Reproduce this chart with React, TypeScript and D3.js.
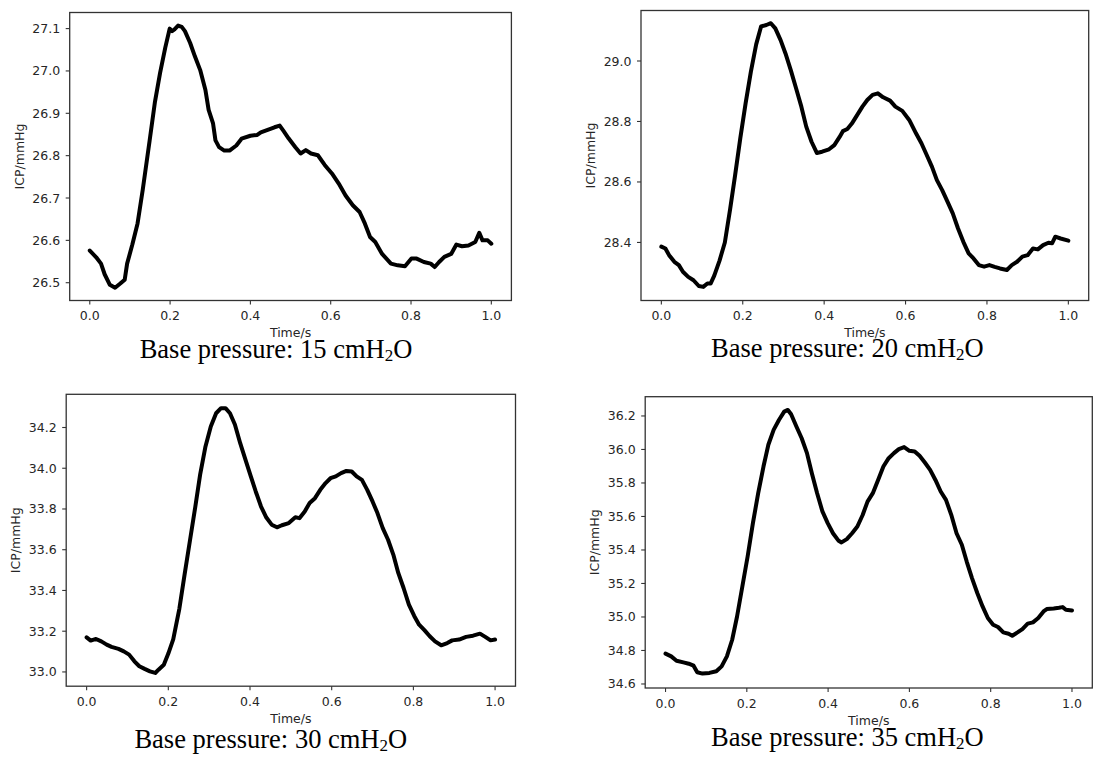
import React from 'react';
import * as d3 from 'd3';

const xTicks = [0, 0.2, 0.4, 0.6, 0.8, 1.0];

// Base pressure 15 cmH2O
const t15 = [0, 0.016, 0.028, 0.037, 0.05, 0.063, 0.076, 0.087, 0.093, 0.106, 0.119, 0.132, 0.149, 0.162, 0.175, 0.188, 0.199, 0.205, 0.211, 0.22, 0.229, 0.237, 0.25, 0.262, 0.275, 0.288, 0.296, 0.307, 0.313, 0.322, 0.335, 0.348, 0.365, 0.378, 0.4, 0.417, 0.426, 0.443, 0.46, 0.473, 0.482, 0.495, 0.512, 0.525, 0.538, 0.551, 0.568, 0.585, 0.603, 0.62, 0.637, 0.655, 0.672, 0.685, 0.698, 0.711, 0.728, 0.75, 0.767, 0.785, 0.801, 0.814, 0.832, 0.849, 0.859, 0.87, 0.883, 0.9, 0.913, 0.927, 0.943, 0.96, 0.97, 0.978, 0.991, 1.0];
const icp15 = [26.576, 26.56, 26.545, 26.52, 26.495, 26.488, 26.498, 26.507, 26.545, 26.59, 26.64, 26.72, 26.835, 26.925, 26.995, 27.055, 27.1, 27.094, 27.098, 27.107, 27.104, 27.094, 27.066, 27.034, 27.002, 26.955, 26.908, 26.876, 26.836, 26.82, 26.812, 26.812, 26.824, 26.84, 26.847, 26.849, 26.855, 26.861, 26.867, 26.871, 26.859, 26.841, 26.82, 26.805, 26.813, 26.805, 26.801, 26.778, 26.758, 26.734, 26.706, 26.683, 26.667, 26.64, 26.608, 26.596, 26.568, 26.545, 26.541, 26.539, 26.557, 26.557, 26.549, 26.545, 26.537, 26.549, 26.561, 26.568, 26.59, 26.586, 26.588, 26.596, 26.618, 26.6, 26.6, 26.592];

// Base pressure 20 cmH2O
const t20 = [0, 0.01, 0.019, 0.032, 0.043, 0.053, 0.066, 0.079, 0.092, 0.103, 0.113, 0.121, 0.13, 0.143, 0.156, 0.169, 0.181, 0.194, 0.207, 0.22, 0.233, 0.245, 0.258, 0.269, 0.28, 0.293, 0.305, 0.318, 0.331, 0.344, 0.356, 0.369, 0.382, 0.395, 0.412, 0.425, 0.438, 0.446, 0.457, 0.468, 0.481, 0.494, 0.506, 0.519, 0.532, 0.545, 0.562, 0.575, 0.592, 0.609, 0.626, 0.639, 0.652, 0.665, 0.677, 0.69, 0.703, 0.716, 0.729, 0.742, 0.755, 0.767, 0.78, 0.793, 0.806, 0.819, 0.832, 0.849, 0.861, 0.874, 0.887, 0.9, 0.913, 0.925, 0.938, 0.951, 0.96, 0.968, 0.981, 1.0];
const icp20 = [28.386, 28.38, 28.358, 28.336, 28.325, 28.303, 28.286, 28.275, 28.256, 28.253, 28.264, 28.264, 28.29, 28.34, 28.4, 28.51, 28.62, 28.745, 28.86, 28.965, 29.055, 29.114, 29.119, 29.125, 29.108, 29.069, 29.025, 28.97, 28.91, 28.849, 28.783, 28.733, 28.696, 28.7, 28.708, 28.722, 28.749, 28.768, 28.775, 28.793, 28.821, 28.849, 28.871, 28.888, 28.893, 28.88, 28.869, 28.849, 28.835, 28.805, 28.76, 28.728, 28.689, 28.65, 28.606, 28.573, 28.535, 28.496, 28.446, 28.402, 28.364, 28.347, 28.325, 28.32, 28.325, 28.319, 28.314, 28.309, 28.325, 28.336, 28.353, 28.358, 28.38, 28.377, 28.391, 28.399, 28.397, 28.419, 28.413, 28.406];

// Base pressure 30 cmH2O
const t30 = [0, 0.01, 0.023, 0.036, 0.049, 0.061, 0.078, 0.091, 0.104, 0.117, 0.129, 0.142, 0.155, 0.168, 0.176, 0.189, 0.2, 0.212, 0.227, 0.24, 0.253, 0.266, 0.278, 0.291, 0.304, 0.317, 0.329, 0.34, 0.351, 0.363, 0.376, 0.389, 0.402, 0.414, 0.427, 0.44, 0.453, 0.466, 0.478, 0.495, 0.511, 0.521, 0.534, 0.546, 0.559, 0.572, 0.585, 0.597, 0.61, 0.623, 0.636, 0.649, 0.661, 0.674, 0.687, 0.7, 0.712, 0.725, 0.738, 0.751, 0.763, 0.776, 0.789, 0.802, 0.814, 0.827, 0.84, 0.853, 0.868, 0.883, 0.895, 0.912, 0.929, 0.946, 0.963, 0.976, 0.989, 1.0];
const icp30 = [33.17, 33.154, 33.162, 33.15, 33.134, 33.123, 33.113, 33.101, 33.085, 33.052, 33.028, 33.015, 33.003, 32.995, 33.011, 33.035, 33.09, 33.16, 33.31, 33.48, 33.645, 33.81, 33.97, 34.107, 34.205, 34.27, 34.295, 34.295, 34.27, 34.215, 34.123, 34.041, 33.96, 33.886, 33.812, 33.758, 33.723, 33.71, 33.72, 33.731, 33.759, 33.755, 33.788, 33.829, 33.853, 33.894, 33.927, 33.951, 33.96, 33.976, 33.987, 33.984, 33.96, 33.943, 33.894, 33.837, 33.78, 33.706, 33.649, 33.575, 33.486, 33.412, 33.33, 33.275, 33.232, 33.205, 33.175, 33.15, 33.131, 33.142, 33.155, 33.159, 33.172, 33.178, 33.188, 33.172, 33.155, 33.159];

// Base pressure 35 cmH2O
const t35 = [0, 0.014, 0.027, 0.044, 0.057, 0.069, 0.078, 0.091, 0.108, 0.125, 0.138, 0.151, 0.164, 0.176, 0.189, 0.202, 0.215, 0.228, 0.241, 0.253, 0.266, 0.279, 0.292, 0.301, 0.309, 0.322, 0.335, 0.348, 0.36, 0.373, 0.386, 0.399, 0.412, 0.425, 0.433, 0.446, 0.459, 0.472, 0.485, 0.497, 0.51, 0.523, 0.536, 0.549, 0.562, 0.574, 0.587, 0.6, 0.613, 0.625, 0.638, 0.651, 0.664, 0.677, 0.69, 0.703, 0.716, 0.729, 0.741, 0.754, 0.767, 0.78, 0.793, 0.806, 0.818, 0.831, 0.844, 0.853, 0.866, 0.878, 0.891, 0.904, 0.917, 0.93, 0.938, 0.955, 0.968, 0.977, 0.985, 1.0];
const icp35 = [34.781, 34.765, 34.739, 34.729, 34.721, 34.709, 34.67, 34.662, 34.666, 34.676, 34.705, 34.765, 34.864, 35.003, 35.182, 35.361, 35.56, 35.739, 35.898, 36.028, 36.117, 36.176, 36.226, 36.236, 36.21, 36.137, 36.067, 35.978, 35.858, 35.739, 35.63, 35.56, 35.5, 35.457, 35.445, 35.465, 35.5, 35.54, 35.609, 35.689, 35.739, 35.818, 35.898, 35.948, 35.978, 36.002, 36.014, 35.992, 35.988, 35.962, 35.922, 35.878, 35.818, 35.749, 35.699, 35.61, 35.5, 35.431, 35.331, 35.232, 35.143, 35.063, 34.994, 34.954, 34.94, 34.908, 34.9, 34.888, 34.908, 34.928, 34.96, 34.968, 34.994, 35.033, 35.047, 35.051, 35.055, 35.059, 35.043, 35.039];

const yTicks15 = [26.5, 26.6, 26.7, 26.8, 26.9, 27.0, 27.1];
const yTicks20 = [28.4, 28.6, 28.8, 29.0];
const yTicks30 = [33.0, 33.2, 33.4, 33.6, 33.8, 34.0, 34.2];
const yTicks35 = [34.6, 34.8, 35.0, 35.2, 35.4, 35.6, 35.8, 36.0, 36.2];

const pressures = ['15', '20', '30', '35'];

const panels = [
  { t: t15, v: icp15, yTicks: yTicks15, yDomain: [26.458, 27.138], left: 69.7, right: 511.4, top: 12.5, bottom: 300.5, ylabelX: 19.2, capX: 276, capY: 358 },
  { t: t20, v: icp20, yTicks: yTicks20, yDomain: [28.208, 29.167], left: 641, right: 1088.7, top: 10.5, bottom: 300.5, ylabelX: 590.5, capX: 847.4, capY: 357 },
  { t: t30, v: icp30, yTicks: yTicks30, yDomain: [32.93, 34.363], left: 66.2, right: 515.5, top: 394.3, bottom: 686.2, ylabelX: 15.7, capX: 270.8, capY: 748 },
  { t: t35, v: icp35, yTicks: yTicks35, yDomain: [34.576, 36.315], left: 645.2, right: 1092.3, top: 396.7, bottom: 688, ylabelX: 594.7, capX: 847.4, capY: 746 },
];

const sans = 'DejaVu Sans, sans-serif';
const serif = 'Liberation Serif, Times New Roman, serif';
const axisColor = '#333';
const textColor = '#262626';
const fmt = d3.format('.1f');

function Panel({ p, pressure }: { p: any; pressure: string }) {
  const x = d3.scaleLinear().domain([-0.05, 1.05]).range([p.left, p.right]);
  const y = d3.scaleLinear().domain(p.yDomain).range([p.bottom, p.top]);
  const pts: [number, number][] = p.t.map((tt: number, i: number) => [tt, p.v[i]]);
  const line = d3.line<[number, number]>().x(d => x(d[0])).y(d => y(d[1]));
  const midY = (p.top + p.bottom) / 2;
  const midX = (p.left + p.right) / 2;
  return (
    <g>
      <path d={line(pts) || ''} fill="none" stroke="#000" strokeWidth={4} strokeLinejoin="round" strokeLinecap="round" />
      <rect x={p.left} y={p.top} width={p.right - p.left} height={p.bottom - p.top} fill="none" stroke={axisColor} strokeWidth={1.3} />
      {xTicks.map(tk => (
        <g key={'x' + tk}>
          <line x1={x(tk)} x2={x(tk)} y1={p.bottom} y2={p.bottom + 4} stroke={axisColor} strokeWidth={1.1} />
          <text x={x(tk)} y={p.bottom + 19.5} textAnchor="middle" fontFamily={sans} fontSize={12.5} fill={textColor}>{fmt(tk)}</text>
        </g>
      ))}
      {p.yTicks.map((tk: number) => (
        <g key={'y' + tk}>
          <line x1={p.left - 4} x2={p.left} y1={y(tk)} y2={y(tk)} stroke={axisColor} strokeWidth={1.1} />
          <text x={p.left - 9.5} y={y(tk) + 4.5} textAnchor="end" fontFamily={sans} fontSize={12.5} fill={textColor}>{fmt(tk)}</text>
        </g>
      ))}
      <text x={midX} y={p.bottom + 36.5} textAnchor="middle" fontFamily={sans} fontSize={12.5} fill={textColor}>Time/s</text>
      <text transform={`translate(${p.ylabelX},${midY}) rotate(-90)`} textAnchor="middle" dominantBaseline="central" fontFamily={sans} fontSize={12.5} fill={textColor}>ICP/mmHg</text>
      <text x={p.capX} y={p.capY} textAnchor="middle" fontFamily={serif} fontSize={26.5} fill="#000">
        Base pressure: {pressure} cmH<tspan fontSize={17} dy={3}>2</tspan><tspan dy={-3}>O</tspan>
      </text>
    </g>
  );
}

export default function App() {
  return (
    <svg width={1094} height={761} style={{ position: 'absolute', left: 0, top: 0, background: '#fff' }}>
      <rect x={0} y={0} width={1094} height={761} fill="#fff" />
      {panels.map((p, i) => (
        <Panel key={i} p={p} pressure={pressures[i]} />
      ))}
    </svg>
  );
}
